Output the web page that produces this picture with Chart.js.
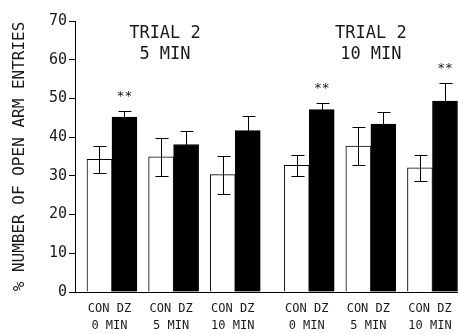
<!DOCTYPE html>
<html>
<head>
<meta charset="utf-8">
<script src="https://cdn.jsdelivr.net/npm/chart.js@4/dist/chart.umd.min.js"></script>
<style>
  html, body { margin: 0; padding: 0; background: #fff; }
  #wrap { width: 458px; height: 334px; }
</style>
</head>
<body>
<div id="wrap"><canvas id="grafica"></canvas></div>
<script>
// ==========================================
// DATOS
// ==========================================
const grupos = ['0 MIN', '5 MIN', '10 MIN', '0 MIN', '5 MIN', '10 MIN'];
const ensayo = [0, 0, 0, 1, 1, 1];
const conMedia = [34.3, 34.9, 30.3, 32.7, 37.7, 32.1];
const conError = [3.5, 5.0, 4.9, 2.8, 4.8, 3.4];
const dzMedia = [45.2, 38.1, 41.7, 47.1, 43.4, 49.3];
const dzError = [1.6, 3.5, 3.7, 1.7, 3.0, 4.6];
const dzSignif = ['**', '', '', '**', '', '**'];
const titulosEnsayo = [['TRIAL 2', '5 MIN'], ['TRIAL 2', '10 MIN']];
const ticksY = [0, 10, 20, 30, 40, 50, 60, 70];

const FUENTE = "'DejaVu Sans Mono', monospace";
const TINTA = '#1a1a1a';

// posición de cada grupo: hay un hueco extra entre los dos ensayos
const posiciones = grupos.map((g, i) => i + ensayo[i] * 0.2);

// ==========================================
// PLUGIN: barras de error, asteriscos y títulos
// ==========================================
const extras = {
    id: 'extras',
    afterDatasetsDraw(chart) {
        const ctx = chart.ctx;
        const x = chart.scales.x;
        const y = chart.scales.y;
        ctx.save();
        ctx.strokeStyle = '#000';
        ctx.lineWidth = 1;

        [[conMedia, conError], [dzMedia, dzError]].forEach(([medias, errores], d) => {
            chart.getDatasetMeta(d).data.forEach((barra, i) => {
                const cx = Math.round(barra.x) + 0.5;
                const arriba = Math.round(y.getPixelForValue(medias[i] + errores[i])) + 0.5;
                const abajo = Math.round(y.getPixelForValue(medias[i] - errores[i])) + 0.5;
                ctx.beginPath();
                ctx.moveTo(cx, abajo);
                ctx.lineTo(cx, arriba);
                ctx.moveTo(cx - 6, arriba);
                ctx.lineTo(cx + 7, arriba);
                ctx.moveTo(cx - 6, abajo);
                ctx.lineTo(cx + 7, abajo);
                ctx.stroke();
            });
        });

        // asteriscos de significación
        ctx.fillStyle = TINTA;
        ctx.textAlign = 'center';
        ctx.textBaseline = 'alphabetic';
        ctx.font = '13px ' + FUENTE;
        chart.getDatasetMeta(1).data.forEach((barra, i) => {
            if (!dzSignif[i]) return;
            const arriba = y.getPixelForValue(dzMedia[i] + dzError[i]);
            ctx.fillText(dzSignif[i], barra.x, arriba - 11);
        });

        // títulos de cada ensayo
        ctx.font = '17px ' + FUENTE;
        ctx.textBaseline = 'middle';
        const centros = [0.86, 4.2];
        titulosEnsayo.forEach((lineas, t) => {
            const tx = x.getPixelForValue(centros[t]);
            ctx.fillText(lineas[0], tx, y.getPixelForValue(66.8));
            ctx.fillText(lineas[1], tx, y.getPixelForValue(61.4));
        });
        ctx.restore();
    }
};

// ==========================================
// GRÁFICA
// ==========================================
new Chart(document.getElementById('grafica'), {
    type: 'bar',
    data: {
        datasets: [
            {
                label: 'CON',
                data: conMedia.map((v, i) => ({ x: posiciones[i], y: v })),
                backgroundColor: '#fff',
                borderColor: '#000',
                borderWidth: 1,
                borderSkipped: 'bottom',
                barThickness: 25
            },
            {
                label: 'DZ',
                data: dzMedia.map((v, i) => ({ x: posiciones[i], y: v })),
                backgroundColor: '#000',
                borderColor: '#000',
                borderWidth: 1,
                borderSkipped: 'bottom',
                barThickness: 25
            }
        ]
    },
    options: {
        responsive: true,
        maintainAspectRatio: false,
        animation: false,
        layout: { padding: { top: 21, left: 0, right: 0, bottom: 0 } },
        plugins: {
            legend: { display: false },
            tooltip: { enabled: false }
        },
        scales: {
            x: {
                type: 'linear',
                offset: false,
                min: -0.6,
                max: 5.614,
                afterBuildTicks: (scale) => {
                    scale.ticks = posiciones.map(v => ({ value: v }));
                },
                afterFit: (scale) => {
                    scale.height = 42;
                    scale.paddingLeft = 0;
                    scale.paddingRight = 0;
                },
                grid: { display: false, drawTicks: false },
                border: { display: true, color: '#000', width: 1 },
                ticks: {
                    autoSkip: false,
                    maxRotation: 0,
                    padding: 8,
                    labelOffset: -2.5,
                    color: TINTA,
                    font: { family: FUENTE, size: 12, lineHeight: 1.45 },
                    callback: (value, index) => ['CON DZ', grupos[index]]
                }
            },
            y: {
                min: ticksY[0],
                max: ticksY[ticksY.length - 1],
                afterBuildTicks: (scale) => {
                    scale.ticks = ticksY.map(v => ({ value: v }));
                },
                afterFit: (scale) => { scale.width = 75; },
                grid: {
                    drawOnChartArea: false,
                    drawTicks: true,
                    tickLength: 6,
                    color: '#000'
                },
                border: { display: true, color: '#000', width: 1 },
                ticks: {
                    padding: 2,
                    color: TINTA,
                    font: { family: FUENTE, size: 15 }
                },
                title: {
                    display: true,
                    text: '% NUMBER OF OPEN ARM ENTRIES',
                    color: TINTA,
                    padding: { top: 10, bottom: 0 },
                    font: { family: FUENTE, size: 16, lineHeight: 1.2 }
                }
            }
        }
    },
    plugins: [extras]
});
</script>
</body>
</html>
